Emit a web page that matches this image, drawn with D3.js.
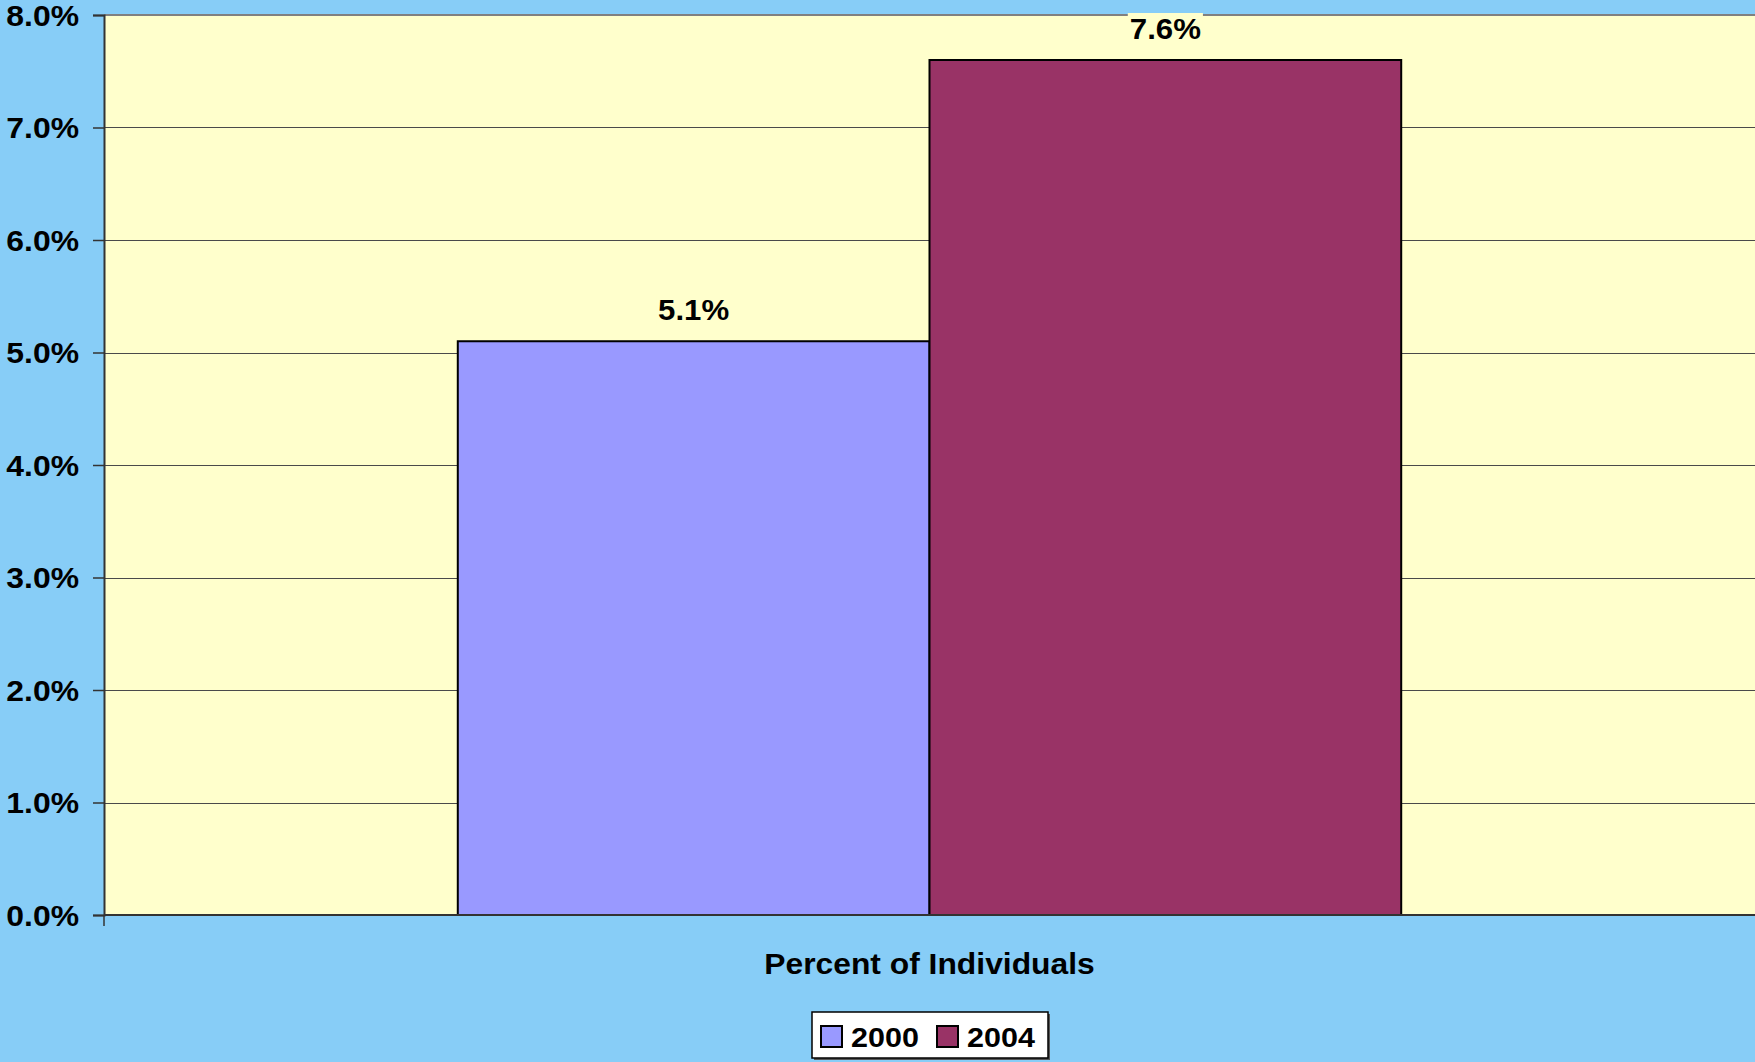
<!DOCTYPE html>
<html><head><meta charset="utf-8">
<script src="https://cdn.jsdelivr.net/npm/d3@7"></script>
<style>body{margin:0;background:#87CDF7;}svg{display:block;font-family:"Liberation Sans",Arial,sans-serif;font-weight:bold;}</style>
</head><body>
<svg id="c" width="1755" height="1062"></svg>
<script>
const categories = ["Percent of Individuals"];
const seriesNames = ["2000", "2004"];
const values2000 = [0.051];
const values2004 = [0.076];
const yTicks = [0, 0.01, 0.02, 0.03, 0.04, 0.05, 0.06, 0.07, 0.08];
const seriesColors = ["#9999FF", "#993366"];

const svg = d3.select("#c");
const W = 1755, H = 1062;
const m = {l:104, r:0, t:15, b:147};
const plotB = H - m.b;
svg.append("rect").attr("width",W).attr("height",H).attr("fill","#87CDF7");

const y = d3.scaleLinear().domain([0,0.08]).range([plotB, m.t]);
const x0 = d3.scaleBand().domain(categories).range([m.l, W-m.r]).paddingInner(0).paddingOuter(0.375);
const x1 = d3.scaleBand().domain(seriesNames).range([0, x0.bandwidth()]).padding(0);

// stretch text horizontally a little, as in the reference rendering
function stretch(sel, f){
  sel.each(function(){
    const w = this.getComputedTextLength();
    d3.select(this).attr("textLength", w*f).attr("lengthAdjust","spacingAndGlyphs");
  });
}

// plot area
svg.append("rect").attr("x",m.l).attr("y",m.t).attr("width",W-m.l-m.r).attr("height",plotB-m.t).attr("fill","#FFFFCC");
svg.append("line").attr("x1",m.l).attr("x2",W).attr("y1",m.t).attr("y2",m.t).attr("stroke","#808080").attr("stroke-width",2);

// gridlines
svg.append("g").selectAll("line").data(yTicks.filter(d=>d>0 && d<0.08)).join("line")
  .attr("x1",m.l).attr("x2",W).attr("y1",d=>Math.round(y(d))+0.5).attr("y2",d=>Math.round(y(d))+0.5)
  .attr("stroke","#4a4a4a").attr("stroke-width",1.2);

const data = categories.map((c,i)=>({cat:c, vals:[values2000[i], values2004[i]]}));

// bars
const g = svg.append("g");
data.forEach(d=>{
  d.vals.forEach((v,j)=>{
    g.append("rect")
      .attr("x", x0(d.cat)+x1(seriesNames[j]))
      .attr("y", y(v))
      .attr("width", x1.bandwidth())
      .attr("height", y(0)-y(v))
      .attr("fill", seriesColors[j])
      .attr("stroke","#000").attr("stroke-width",2);
  });
});

// y axis
const yAxis = d3.axisLeft(y).tickValues(yTicks).tickFormat(d3.format(".1%")).tickSize(11).tickPadding(14);
const ya = svg.append("g").attr("transform",`translate(${m.l},0)`).call(yAxis);
ya.select(".domain").attr("stroke","#333").attr("stroke-width",2);
ya.selectAll(".tick line").attr("stroke","#333").attr("stroke-width",1.5);
ya.selectAll("text").attr("font-size",29).attr("font-weight","bold").attr("fill","#000").attr("font-family","Liberation Sans, Arial, sans-serif").attr("dy","0.35em");
stretch(ya.selectAll("text"), 1.1);

// x axis baseline
svg.append("line").attr("x1",m.l).attr("x2",W).attr("y1",plotB).attr("y2",plotB).attr("stroke","#333").attr("stroke-width",2);
svg.append("line").attr("x1",m.l).attr("x2",m.l).attr("y1",plotB).attr("y2",plotB+11).attr("stroke","#333").attr("stroke-width",1.5);

// x category label
const title = svg.append("text").attr("x",x0(categories[0])+x0.bandwidth()/2).attr("y",974)
  .attr("text-anchor","middle").attr("font-size",30).text(categories[0]);
stretch(title, 1.06);

// value labels
data.forEach(d=>{
  d.vals.forEach((v,j)=>{
    const cx = x0(d.cat)+x1(seriesNames[j])+x1.bandwidth()/2;
    const t = svg.append("text").attr("x",cx).attr("y",y(v)-21)
      .attr("text-anchor","middle").attr("font-size",30).text(d3.format(".1%")(v));
    stretch(t, 1.04);
    const bb = t.node().getBBox();
    svg.insert("rect", () => t.node()).attr("x",bb.x-2).attr("y",bb.y+1).attr("width",bb.width+4).attr("height",bb.height-2).attr("fill","#FFFFCC");
  });
});

// legend
const lg = svg.append("g");
lg.append("rect").attr("x",814).attr("y",1014).attr("width",236).attr("height",46).attr("fill","#555");
lg.append("rect").attr("x",812).attr("y",1012).attr("width",236).attr("height",46).attr("fill","#fff").attr("stroke","#000").attr("stroke-width",1.5);
const legX = [821, 937];
seriesNames.forEach((s,j)=>{
  lg.append("rect").attr("x",legX[j]).attr("y",1026).attr("width",21).attr("height",21)
    .attr("fill",seriesColors[j]).attr("stroke","#000").attr("stroke-width",2);
  const t = lg.append("text").attr("x",legX[j]+30).attr("y",1047).attr("font-size",28).text(s);
  stretch(t, 1.09);
});
</script>
</body></html>
